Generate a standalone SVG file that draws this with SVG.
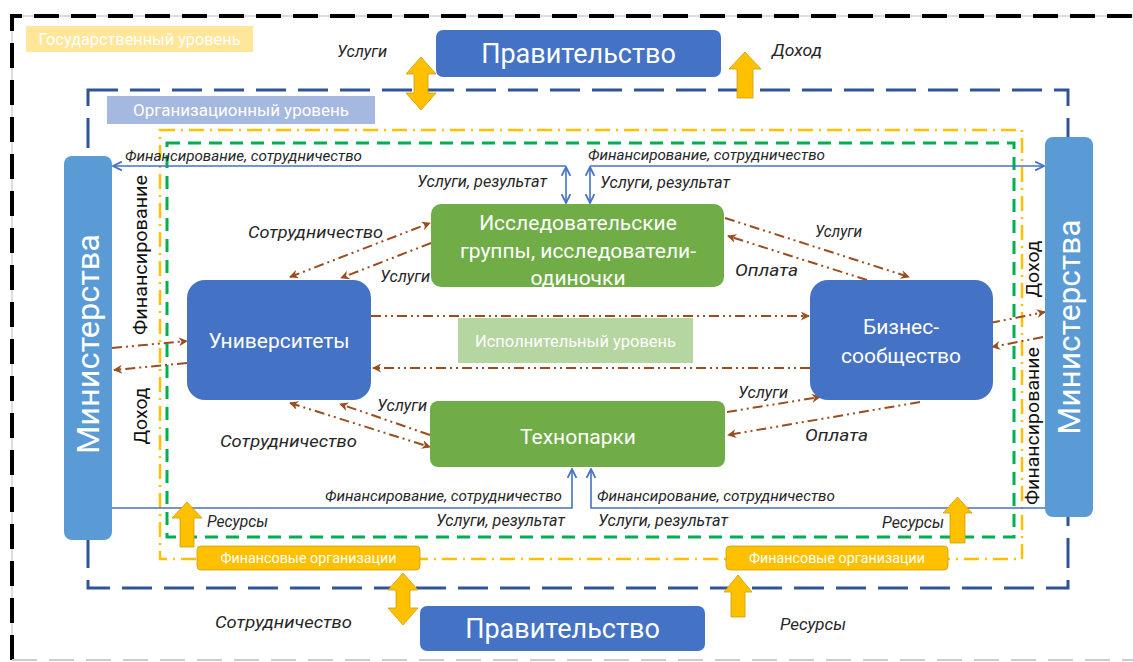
<svg xmlns="http://www.w3.org/2000/svg" width="1133" height="662" viewBox="0 0 1133 662">
<defs>
<style>
text{font-family:Roboto,"Liberation Sans",sans-serif}
.lbl{font-style:italic;font-size:16.5px;fill:#262626}
.lf{font-size:15px}
.w{fill:#fff}
.blk{fill:#111;font-size:18.5px}
.brown{fill:none;stroke:#9A4D1E;stroke-width:2;stroke-dasharray:10 4 2 4 2 4}
.blue{fill:none;stroke:#4472C4;stroke-width:1.6}
.yarr{fill:#FFC000;stroke:#C9A000;stroke-width:0.8}
</style>
<marker id="bh" viewBox="0 0 10 10" refX="9" refY="5" markerWidth="9" markerHeight="9" markerUnits="userSpaceOnUse" orient="auto-start-reverse"><path d="M0,0 L10,5 L0,10 L3,5 Z" fill="#9A4D1E"/></marker>
<marker id="blh" viewBox="0 0 10 10" refX="9" refY="5" markerWidth="11" markerHeight="11" markerUnits="userSpaceOnUse" orient="auto-start-reverse"><path d="M1,1 L9,5 L1,9" fill="none" stroke="#4472C4" stroke-width="1.6"/></marker>
</defs>
<rect width="1133" height="662" fill="#fff"/>

<g id="frames">
<path d="M12,660 V16 H1133" fill="none" stroke="#bbb" stroke-width="1"/>
<path d="M12,660 V16 H1133" fill="none" stroke="#000" stroke-width="4" stroke-dasharray="25 12"/>
<path d="M12,660 H1133" fill="none" stroke="#ccc" stroke-width="2" stroke-dasharray="25 12"/>
<rect x="88" y="90" width="980" height="498" fill="none" stroke="#2F5597" stroke-width="3" stroke-dasharray="30 12"/>
<rect x="160" y="130" width="862" height="429" fill="none" stroke="#FFC000" stroke-width="2.5" stroke-dasharray="15 6 2 6"/>
<rect x="167" y="143" width="847" height="394" fill="none" stroke="#00B050" stroke-width="3" stroke-dasharray="13 8"/>
</g>

<g id="level-state">
<rect x="26" y="26" width="227" height="26" fill="#FFE699"/>
<text x="139.5" y="45" text-anchor="middle" class="w" font-size="16" textLength="202" lengthAdjust="spacingAndGlyphs">Государственный уровень</text>
</g>
<g id="level-org">
<rect x="107" y="96" width="268" height="28" fill="#A4B8E0"/>
<text x="241" y="116" text-anchor="middle" class="w" font-size="17" textLength="216" lengthAdjust="spacingAndGlyphs">Организационный уровень</text>
</g>
<g id="level-exec">
<rect x="458" y="318" width="235" height="45" fill="#B5D6A0"/>
<text x="575.5" y="347" text-anchor="middle" class="w" font-size="16.5" textLength="201" lengthAdjust="spacingAndGlyphs">Исполнительный уровень</text>
</g>

<g id="connectors">
<path class="blue" d="M566,166 H113" marker-end="url(#blh)"/>
<path class="blue" d="M590,166 H1044" marker-end="url(#blh)"/>
<path class="blue" d="M566,167 V203" marker-start="url(#blh)" marker-end="url(#blh)"/>
<path class="blue" d="M590,167 V203" marker-start="url(#blh)" marker-end="url(#blh)"/>
<path class="blue" d="M112,508 H572 V469" marker-end="url(#blh)"/>
<path class="blue" d="M1045,508 H591 V469" marker-end="url(#blh)"/>
<path class="brown" d="M290,277 L430,223" marker-start="url(#bh)" marker-end="url(#bh)"/>
<path class="brown" d="M431,243 L341,278" marker-end="url(#bh)"/>
<path class="brown" d="M371,316 H809" marker-end="url(#bh)"/>
<path class="brown" d="M810,368 H373" marker-end="url(#bh)"/>
<path class="brown" d="M725,218 L909,277" marker-end="url(#bh)"/>
<path class="brown" d="M867,280 L728,236" marker-end="url(#bh)"/>
<path class="brown" d="M727,412 L820,397" marker-end="url(#bh)"/>
<path class="brown" d="M920,402 L728,435" marker-end="url(#bh)"/>
<path class="brown" d="M430,435 L340,404" marker-end="url(#bh)"/>
<path class="brown" d="M290,403 L430,447" marker-start="url(#bh)" marker-end="url(#bh)"/>
<path class="brown" d="M112,348 L187,341" marker-end="url(#bh)"/>
<path class="brown" d="M187,363 L114,370" marker-end="url(#bh)"/>
<path class="brown" d="M990,323 L1045,312" marker-end="url(#bh)"/>
<path class="brown" d="M1043,337 L992,347" marker-end="url(#bh)"/>
<polygon class="yarr" points="421,57 436,74 428,74 428,93 436,93 421,110 406,93 414,93 414,74 406,74"/>
<polygon class="yarr" points="745,52 761,69 753,69 753,98 737,98 737,69 729,69"/>
<polygon class="yarr" points="187,502 202,518 194,518 194,547 180,547 180,518 172,518"/>
<polygon class="yarr" points="957.5,497 972,513 965,513 965,543 950,543 950,513 943,513"/>
<polygon class="yarr" points="403,573 418,590 410,590 410,608 418,608 403,625 388,608 396,608 396,590 388,590"/>
<polygon class="yarr" points="738,575 752,592 745,592 745,617 731,617 731,592 724,592"/>
<text class="lbl" x="337" y="57" textLength="50" lengthAdjust="spacingAndGlyphs">Услуги</text>
<text class="lbl" x="772" y="56" textLength="50" lengthAdjust="spacingAndGlyphs">Доход</text>
<text class="lbl lf" x="125" y="161" textLength="237" lengthAdjust="spacingAndGlyphs">Финансирование, сотрудничество</text>
<text class="lbl lf" x="588" y="160" textLength="237" lengthAdjust="spacingAndGlyphs">Финансирование, сотрудничество</text>
<text class="lbl" x="417" y="187" textLength="130" lengthAdjust="spacingAndGlyphs">Услуги, результат</text>
<text class="lbl" x="600" y="188" textLength="130" lengthAdjust="spacingAndGlyphs">Услуги, результат</text>
<text class="lbl" x="248" y="238" textLength="135" lengthAdjust="spacingAndGlyphs">Сотрудничество</text>
<text class="lbl" x="380" y="282" textLength="50" lengthAdjust="spacingAndGlyphs">Услуги</text>
<text class="lbl" x="815" y="237" textLength="47" lengthAdjust="spacingAndGlyphs">Услуги</text>
<text class="lbl" x="735" y="276" textLength="63" lengthAdjust="spacingAndGlyphs">Оплата</text>
<text class="lbl" x="738" y="398" textLength="50" lengthAdjust="spacingAndGlyphs">Услуги</text>
<text class="lbl" x="805" y="441" textLength="63" lengthAdjust="spacingAndGlyphs">Оплата</text>
<text class="lbl" x="377" y="411" textLength="50" lengthAdjust="spacingAndGlyphs">Услуги</text>
<text class="lbl" x="220" y="447" textLength="137" lengthAdjust="spacingAndGlyphs">Сотрудничество</text>
<text class="lbl lf" x="325" y="501" textLength="237" lengthAdjust="spacingAndGlyphs">Финансирование, сотрудничество</text>
<text class="lbl lf" x="597" y="501" textLength="238" lengthAdjust="spacingAndGlyphs">Финансирование, сотрудничество</text>
<text class="lbl" x="436" y="526" textLength="129" lengthAdjust="spacingAndGlyphs">Услуги, результат</text>
<text class="lbl" x="598" y="526" textLength="130" lengthAdjust="spacingAndGlyphs">Услуги, результат</text>
<text class="lbl" x="207" y="527" textLength="61" lengthAdjust="spacingAndGlyphs">Ресурсы</text>
<text class="lbl" x="882" y="528" textLength="62" lengthAdjust="spacingAndGlyphs">Ресурсы</text>
<text class="lbl" x="215" y="628" textLength="137" lengthAdjust="spacingAndGlyphs">Сотрудничество</text>
<text class="lbl" x="780" y="630" textLength="66" lengthAdjust="spacingAndGlyphs">Ресурсы</text>
<text class="blk" transform="translate(147,255) rotate(-90)" text-anchor="middle" textLength="160" lengthAdjust="spacingAndGlyphs">Финансирование</text>
<text class="blk" transform="translate(147,416) rotate(-90)" text-anchor="middle" textLength="57" lengthAdjust="spacingAndGlyphs">Доход</text>
<text class="blk" transform="translate(1039,269) rotate(-90)" text-anchor="middle" textLength="57" lengthAdjust="spacingAndGlyphs">Доход</text>
<text class="blk" transform="translate(1039,426) rotate(-90)" text-anchor="middle" textLength="158" lengthAdjust="spacingAndGlyphs">Финансирование</text>
</g>

<g id="gov-top">
<rect x="436" y="30" width="285" height="47" rx="7" fill="#4472C4"/>
<text x="578.5" y="63" text-anchor="middle" class="w" font-size="27">Правительство</text>
</g>
<g id="gov-bottom">
<rect x="420" y="606" width="285" height="45" rx="7" fill="#4472C4"/>
<text x="562.5" y="638" text-anchor="middle" class="w" font-size="27">Правительство</text>
</g>
<g id="ministry-left">
<rect x="64" y="156" width="48" height="384" rx="8" fill="#5B9BD5"/>
<text transform="translate(99,344) rotate(-90)" text-anchor="middle" class="w" font-size="31" textLength="220" lengthAdjust="spacingAndGlyphs">Министерства</text>
</g>
<g id="ministry-right">
<rect x="1045" y="137" width="48" height="380" rx="8" fill="#5B9BD5"/>
<text transform="translate(1080,327) rotate(-90)" text-anchor="middle" class="w" font-size="31" textLength="215" lengthAdjust="spacingAndGlyphs">Министерства</text>
</g>
<g id="research">
<rect x="431" y="204" width="293" height="83" rx="10" fill="#70AD47"/>
<text x="578" y="230" text-anchor="middle" class="w" font-size="21">Исследовательские</text>
<text x="578" y="258" text-anchor="middle" class="w" font-size="21">группы, исследователи-</text>
<text x="578" y="285" text-anchor="middle" class="w" font-size="21">одиночки</text>
</g>
<g id="universities">
<rect x="187" y="280" width="184" height="120" rx="18" fill="#4472C4"/>
<text x="279" y="348" text-anchor="middle" class="w" font-size="21">Университеты</text>
</g>
<g id="business">
<rect x="810" y="280" width="183" height="120" rx="18" fill="#4472C4"/>
<text x="901" y="334" text-anchor="middle" class="w" font-size="21">Бизнес-</text>
<text x="901" y="363" text-anchor="middle" class="w" font-size="21">сообщество</text>
</g>
<g id="technoparks">
<rect x="430" y="401" width="295" height="66" rx="8" fill="#70AD47"/>
<text x="578" y="444" text-anchor="middle" class="w" font-size="21">Технопарки</text>
</g>
<g id="fin-left">
<rect x="197" y="546" width="223" height="24" rx="4" fill="#FFC000" stroke="#D4A000" stroke-width="0.8"/>
<text x="308.5" y="563" text-anchor="middle" class="w" font-size="14.3">Финансовые организации</text>
</g>
<g id="fin-right">
<rect x="726" y="546" width="222" height="24" rx="4" fill="#FFC000" stroke="#D4A000" stroke-width="0.8"/>
<text x="837" y="563" text-anchor="middle" class="w" font-size="14.3">Финансовые организации</text>
</g>
</svg>
